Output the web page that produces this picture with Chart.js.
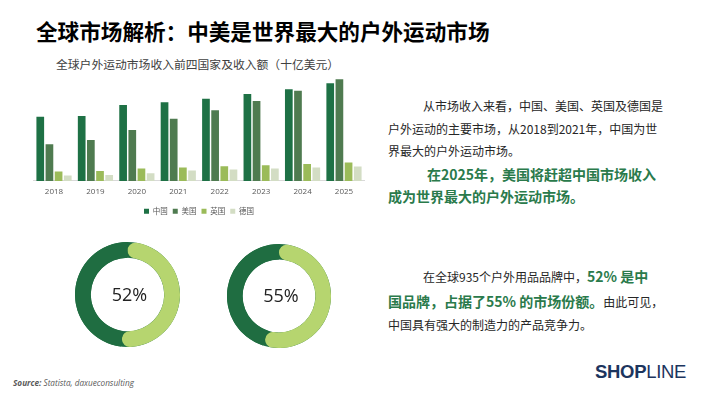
<!DOCTYPE html>
<html lang="zh">
<head>
<meta charset="utf-8">
<script src="https://cdn.jsdelivr.net/npm/chart.js@4"></script>
<style>
  body { margin: 0; width: 710px; height: 399px; background: #fff; overflow: hidden; position: relative;
         font-family: "Noto Sans CJK SC", "Noto Sans", sans-serif; color: #222; }
  .abs { position: absolute; white-space: nowrap; }
  .titulo { left: 36px; top: 17px; font-size: 21.6px; line-height: 28px; font-weight: 700; color: #000; }
  .subtitulo { left: 56px; top: 56px; font-size: 11.8px; line-height: 16px; color: #404040; }
  .linea { font-size: 12px; line-height: 18px; color: #262626; }
  .verde { color: #2a7a4b; font-weight: 700; font-size: 14px; }
  .logo { left: 595px; top: 360px; font-family: "Liberation Sans", Arial, sans-serif; font-size: 18.5px;
          line-height: 24px; color: #1c355e; font-weight: 700; letter-spacing: -0.3px; }
  .logo span { font-weight: 400; }
  .fuente { left: 13px; top: 378px; font-family: "Open Sans", sans-serif; font-style: italic; font-size: 8.2px;
            line-height: 10px; color: #595959; }
  canvas { position: absolute; }
</style>
</head>
<body>
<div class="abs titulo">全球市场解析：中美是世界最大的户外运动市场</div>
<div class="abs subtitulo">全球户外运动市场收入前四国家及收入额（十亿美元）</div>

<canvas id="grafico-ingresos" width="360" height="155" style="left:20px; top:70px;"></canvas>
<canvas id="dona-marcas" width="105" height="105" style="left:75px; top:242px;"></canvas>
<canvas id="dona-mercado" width="104" height="104" style="left:227px; top:244px;"></canvas>

<div class="abs linea" style="left:423px; top:97px;">从市场收入来看，中国、美国、英国及德国是</div>
<div class="abs linea" style="left:388px; top:120px;">户外运动的主要市场，从2018到2021年，中国为世</div>
<div class="abs linea" style="left:388px; top:142px;">界最大的户外运动市场。</div>
<div class="abs linea verde" style="left:427px; top:164px; line-height:20px;">在2025年，美国将赶超中国市场收入</div>
<div class="abs linea verde" style="left:388px; top:186px; line-height:20px;">成为世界最大的户外运动市场。</div>

<div class="abs linea" style="left:423px; top:266px; line-height:20px;">在全球935个户外用品品牌中，<span class="verde">52% 是中</span></div>
<div class="abs linea" style="left:388px; top:291px; line-height:20px;"><span class="verde">国品牌，占据了55% 的市场份额。</span>由此可见，</div>
<div class="abs linea" style="left:388px; top:316px;">中国具有强大的制造力的产品竞争力。</div>

<div class="abs logo">SHOP<span>LINE</span></div>
<div class="abs fuente"><b>Source:</b> Statista, daxueconsulting</div>

<script>
// Datos del gráfico de barras (miles de millones USD)
const anios = ['2018', '2019', '2020', '2021', '2022', '2023', '2024', '2025'];
const paises = ['中国', '美国', '英国', '德国'];
const ingresosChina = [64.3, 65, 76, 78.7, 82.3, 87, 91.7, 97.7];
const ingresosEEUU = [36.7, 41, 51, 62.3, 70.7, 80, 90.3, 101.7];
const ingresosRU = [9.3, 10, 12.3, 13.3, 14.7, 15.7, 17, 18.3];
const ingresosAlemania = [5.3, 6, 7.7, 10.3, 11.3, 12.3, 13.3, 14.3];
const coloresPaises = ['#1e7145', '#4f7b50', '#9bbb59', '#d3ddc4'];

// Datos de las donas (%)
const marcasChinas = [52, 48];
const cuotaMercado = [55, 45];
const coloresDona = ['#b6d56f', '#1f6d41'];

// Gráfico de barras de ingresos
function crearGraficoIngresos() {
    const series = [ingresosChina, ingresosEEUU, ingresosRU, ingresosAlemania];
    const ctx = document.getElementById('grafico-ingresos').getContext('2d');
    new Chart(ctx, {
        type: 'bar',
        data: {
            labels: anios,
            datasets: series.map((valores, i) => ({
                label: paises[i],
                data: valores,
                backgroundColor: coloresPaises[i],
                categoryPercentage: 0.885,
                barPercentage: 0.84
            }))
        },
        options: {
            responsive: false,
            animation: false,
            layout: { padding: { left: 13.3, right: 15.3, top: 1, bottom: 0 } },
            plugins: {
                tooltip: { enabled: false },
                legend: {
                    position: 'bottom',
                    labels: {
                        boxWidth: 5,
                        boxHeight: 5,
                        padding: 5,
                        color: '#595959',
                        font: { size: 7.5, family: '"Noto Sans CJK SC", sans-serif' }
                    }
                }
            },
            scales: {
                x: {
                    grid: { display: false, drawTicks: false },
                    border: { display: true, color: '#d9d9d9' },
                    ticks: { padding: 6, color: '#595959', font: { size: 8, family: '"Open Sans", sans-serif' } }
                },
                y: { display: false, min: 0, max: 110 }
            }
        }
    });
}

// Plugin: anillo oscuro de fondo y texto central
const anilloFondo = {
    id: 'anilloFondo',
    beforeDatasetsDraw(chart) {
        const arco = chart.getDatasetMeta(0).data[0];
        const c = chart.ctx;
        c.save();
        c.beginPath();
        c.arc(arco.x, arco.y, arco.outerRadius, 0, Math.PI * 2);
        c.arc(arco.x, arco.y, arco.innerRadius, 0, Math.PI * 2, true);
        c.fillStyle = coloresDona[1];
        c.fill();
        c.restore();
    },
    afterDraw(chart) {
        const arco = chart.getDatasetMeta(0).data[0];
        const c = chart.ctx;
        c.save();
        c.font = '18px "Open Sans", sans-serif';
        c.fillStyle = '#222';
        c.textAlign = 'center';
        c.textBaseline = 'middle';
        c.fillText(chart.data.datasets[0].data[0] + '%', arco.x + 2, arco.y + 1);
        c.restore();
    }
};

// Gráfico de dona
function crearDona(id, valores) {
    const ctx = document.getElementById(id).getContext('2d');
    new Chart(ctx, {
        type: 'doughnut',
        data: {
            labels: ['中国', '其他'],
            datasets: [{
                data: valores,
                backgroundColor: coloresDona,
                borderWidth: 0,
                borderRadius: c => c.dataIndex === 0 ? 8 : 0
            }]
        },
        options: {
            responsive: false,
            animation: false,
            cutout: '70%',
            plugins: { legend: { display: false }, tooltip: { enabled: false } }
        },
        plugins: [anilloFondo]
    });
}

document.addEventListener('DOMContentLoaded', () => {
    crearGraficoIngresos();
    crearDona('dona-marcas', marcasChinas);
    crearDona('dona-mercado', cuotaMercado);
});
</script>
</body>
</html>
